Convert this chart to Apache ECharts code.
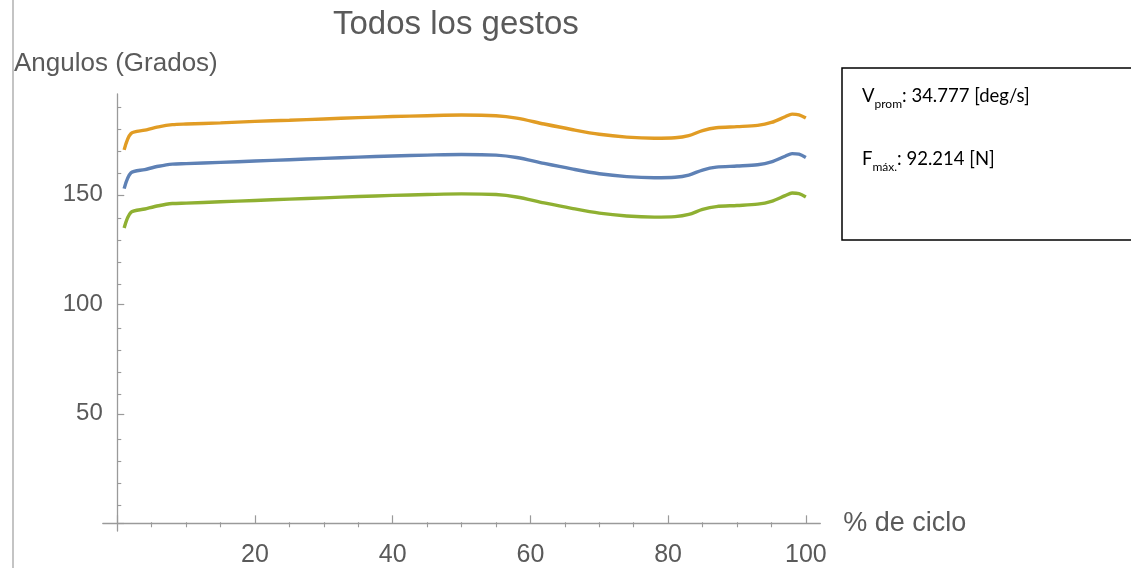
<!DOCTYPE html>
<html>
<head>
<meta charset="utf-8">
<script src="https://cdn.jsdelivr.net/npm/echarts@6/dist/echarts.min.js"></script>
<style>
html,body{margin:0;padding:0;background:#fff;}
#c{width:1131px;height:568px;}
</style>
</head>
<body>
<div id="c"></div>
<script>
// ---- data ----
const cyclePct = [1, 2, 4, 6, 8, 10, 15, 20, 25, 30, 35, 40, 45, 50, 55, 58, 62, 66, 70, 74, 78, 81, 83, 85, 87, 90, 93, 95, 97, 98, 99, 100];
const seriesOrange = [170.5, 178, 179.5, 181, 182, 182.3, 182.8, 183.5, 184, 184.6, 185.2, 185.7, 186.1, 186.4, 186.1, 185, 182.3, 179.8, 177.6, 176.3, 175.8, 176, 177, 179.3, 180.6, 181.1, 181.7, 183, 185.6, 186.8, 186.5, 185];
const seriesBlue   = [152.8, 160, 161.5, 163, 164, 164.2, 164.8, 165.4, 166, 166.6, 167.2, 167.7, 168.1, 168.4, 168.1, 167, 164.3, 161.8, 159.6, 158.3, 157.8, 158, 159, 161.3, 162.6, 163.1, 163.7, 165, 167.6, 168.8, 168.5, 167];
const seriesGreen  = [134.8, 142, 143.5, 145, 146, 146.2, 146.8, 147.4, 148, 148.6, 149.2, 149.7, 150.1, 150.4, 150.1, 149, 146.3, 143.8, 141.6, 140.3, 139.8, 140, 141, 143.3, 144.6, 145.1, 145.7, 147, 149.6, 150.8, 150.5, 149];
const xMajorTicks = [0, 20, 40, 60, 80, 100];
const xLabels = [20, 40, 60, 80, 100];
const xMinorTicks = [5, 10, 15, 25, 30, 35, 45, 50, 55, 65, 70, 75, 85, 90, 95];
const yMajorTicks = [0, 50, 100, 150];
const yLabels = [50, 100, 150];
const yMinorTicks = [10, 20, 30, 40, 60, 70, 80, 90, 110, 120, 130, 140, 160, 170, 180, 190];
const titleText = 'Todos los gestos';
const yName = 'Angulos (Grados)';
const xName = '% de ciclo';
const infoV = '34.777 [deg/s]';
const infoF = '92.214 [N]';

const pairs = (ys) => cyclePct.map((x, i) => [x, ys[i]]);

const textColor = '#5a5a5a';
const axisColor = '#9a9a9a';
const gridBox = {left: 102.8, top: 94, width: 717.5, height: 441};
const xRange = {min: -2.1, max: 102.1};
const yRange = {min: -3.5, max: 196};

const chart = echarts.init(document.getElementById('c'), null, {renderer: 'canvas'});
chart.setOption({
  animation: false,
  backgroundColor: '#fff',
  title: [
    {text: titleText, left: 328, top: 3,
     textStyle: {fontFamily: 'Liberation Sans', fontSize: 33, fontWeight: 'normal', color: textColor}},
    {text: yName, left: 9, top: 46,
     textStyle: {fontFamily: 'Liberation Sans', fontSize: 26, fontWeight: 'normal', color: textColor}}
  ],
  grid: [
    Object.assign({}, gridBox),
    Object.assign({}, gridBox)
  ],
  xAxis: [
    {type: 'value', gridIndex: 0, min: xRange.min, max: xRange.max,
     name: xName, nameLocation: 'end', nameGap: 23,
     nameTextStyle: {fontFamily: 'Liberation Sans', fontSize: 27, color: textColor, padding: [12, 0, 0, 0]},
     axisLine: {show: true, onZero: true, lineStyle: {color: axisColor, width: 1.3}},
     axisTick: {show: true, inside: true, length: 8, customValues: xMajorTicks, lineStyle: {color: axisColor, width: 1.2}},
     axisLabel: {show: true, customValues: xLabels, margin: 12, fontFamily: 'Liberation Sans', fontSize: 25, color: textColor},
     splitLine: {show: false}},
    {type: 'value', gridIndex: 1, min: xRange.min, max: xRange.max,
     axisLine: {show: false, onZero: true},
     axisTick: {show: true, inside: true, length: 5, customValues: xMinorTicks, lineStyle: {color: axisColor, width: 1.1}},
     axisLabel: {show: false},
     splitLine: {show: false}}
  ],
  yAxis: [
    {type: 'value', gridIndex: 0, min: yRange.min, max: yRange.max,
     axisLine: {show: true, onZero: true, lineStyle: {color: axisColor, width: 1.3}},
     axisTick: {show: true, inside: true, length: 7, customValues: yMajorTicks, lineStyle: {color: axisColor, width: 1.2}},
     axisLabel: {show: true, customValues: yLabels, margin: 0, fontFamily: 'Liberation Sans', fontSize: 24, color: textColor, padding: [4, 0, 0, 0]},
     splitLine: {show: false}},
    {type: 'value', gridIndex: 1, min: yRange.min, max: yRange.max,
     axisLine: {show: false, onZero: true},
     axisTick: {show: true, inside: true, length: 4, customValues: yMinorTicks, lineStyle: {color: axisColor, width: 1.1}},
     axisLabel: {show: false},
     splitLine: {show: false}}
  ],
  series: [
    {type: 'line', xAxisIndex: 0, yAxisIndex: 0, data: pairs(seriesBlue), showSymbol: false, smooth: 0.3,
     lineStyle: {color: '#5E81B5', width: 3.4}, itemStyle: {color: '#5E81B5'}},
    {type: 'line', xAxisIndex: 0, yAxisIndex: 0, data: pairs(seriesOrange), showSymbol: false, smooth: 0.3,
     lineStyle: {color: '#E19C24', width: 3.4}, itemStyle: {color: '#E19C24'}},
    {type: 'line', xAxisIndex: 0, yAxisIndex: 0, data: pairs(seriesGreen), showSymbol: false, smooth: 0.3,
     lineStyle: {color: '#8FB032', width: 3.4}, itemStyle: {color: '#8FB032'}}
  ],
  graphic: [
    {type: 'line', shape: {x1: 13, y1: 0, x2: 13, y2: 568}, style: {stroke: '#b0b0b0', lineWidth: 1.5}},
    {type: 'rect', shape: {x: 842, y: 68, width: 300, height: 172}, style: {fill: '#fff', stroke: '#000', lineWidth: 1.5}},
    {type: 'text', left: 862, top: 87,
     style: {
       text: '{m|V}{s|prom}{m|: ' + infoV + '}',
       rich: {
         m: {fontFamily: 'Lato', fontSize: 18.5, fill: '#000', verticalAlign: 'bottom'},
         s: {fontFamily: 'Lato', fontSize: 12, fill: '#000', verticalAlign: 'bottom', padding: [0, 0, -4, 0]}
       }
     }},
    {type: 'text', left: 862, top: 150,
     style: {
       text: '{m|F}{s|máx.}{m|: ' + infoF + '}',
       rich: {
         m: {fontFamily: 'Lato', fontSize: 18.5, fill: '#000', verticalAlign: 'bottom'},
         s: {fontFamily: 'Lato', fontSize: 12, fill: '#000', verticalAlign: 'bottom', padding: [0, 0, -4, 0]}
       }
     }}
  ]
});
</script>
</body>
</html>
